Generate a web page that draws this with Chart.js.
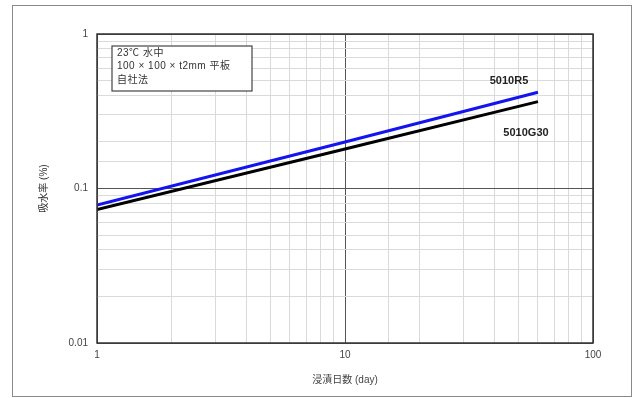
<!DOCTYPE html>
<html>
<head>
<meta charset="utf-8">
<script src="https://cdn.jsdelivr.net/npm/chart.js@4/dist/chart.umd.min.js"></script>
<style>
  html, body { margin: 0; padding: 0; background: #fff; }
  #wrap { width: 632px; height: 398px; }
</style>
</head>
<body>
<div id="wrap"><canvas id="absChart"></canvas></div>
<script>
// 浸漬日数 (day)
var days = [1, 10, 60];
// 吸水率 (%)
var r5Values = [0.078, 0.20, 0.42];
var g30Values = [0.073, 0.18, 0.365];

var seriesNames = ['5010R5', '5010G30'];
var xTickValues = [1, 10, 100];
var xTickLabels = ['1', '10', '100'];
var yTickValues = [0.01, 0.1, 1];
var yTickLabels = ['0.01', '0.1', '1'];
var noteLines = ['23\u2103 水中', '100 \u00d7 100 \u00d7 t2mm 平板', '自社法'];

var FONT = '"Liberation Sans", "Noto Sans CJK JP", sans-serif';

function isDecade(v) {
	var l = Math.log10(v);
	return Math.abs(l - Math.round(l)) < 1e-6;
}

function tickLabel(v, vals, labels) {
	for (var i = 0; i < vals.length; i++) {
		if (Math.abs(v - vals[i]) / vals[i] < 1e-6) return labels[i];
	}
	return '';
}

function toPoints(xs, ys) {
	var pts = [];
	for (var i = 0; i < xs.length; i++) pts.push({ x: xs[i], y: ys[i] });
	return pts;
}

// frame, plot border, note box and line names
var decorPlugin = {
	id: 'decor',
	beforeDraw: function(chart) {
		var ctx = chart.ctx;
		ctx.save();
		ctx.fillStyle = '#fff';
		ctx.fillRect(0, 0, chart.width, chart.height);
		ctx.strokeStyle = '#8a8a8a';
		ctx.lineWidth = 1;
		ctx.strokeRect(12.5, 5.5, 619, 391);
		ctx.restore();
	},
	afterDraw: function(chart) {
		var ctx = chart.ctx;
		var a = chart.chartArea;
		var xs = chart.scales.x, ys = chart.scales.y;
		ctx.save();

		ctx.strokeStyle = '#333';
		ctx.lineWidth = 1.5;
		ctx.strokeRect(a.left, a.top, a.right - a.left, a.bottom - a.top);

		// note box
		var bx = a.left + 15, by = a.top + 12;
		ctx.fillStyle = '#fff';
		ctx.fillRect(bx, by, 140, 45);
		ctx.strokeStyle = '#444';
		ctx.lineWidth = 1.2;
		ctx.strokeRect(bx, by, 140, 45);
		ctx.fillStyle = '#333';
		ctx.font = '10px ' + FONT;
		ctx.letterSpacing = '0.5px';
		ctx.textBaseline = 'middle';
		ctx.textAlign = 'left';
		for (var i = 0; i < noteLines.length; i++) {
			ctx.fillText(noteLines[i], bx + 5, by + 7 + i * 13.5);
		}
		ctx.letterSpacing = '0px';

		// series names near the line ends
		var n = days.length - 1;
		var ex = xs.getPixelForValue(days[n]);
		ctx.font = 'bold 11px ' + FONT;
		ctx.fillStyle = '#222';
		ctx.textAlign = 'center';
		ctx.fillText(seriesNames[0], ex - 29, ys.getPixelForValue(r5Values[n]) - 11);
		ctx.fillText(seriesNames[1], ex - 12, ys.getPixelForValue(g30Values[n]) + 31);
		ctx.restore();
	}
};

function gridColor(c) {
	return isDecade(c.tick.value) ? '#555' : '#dadada';
}

var ctx = document.getElementById('absChart').getContext('2d');
new Chart(ctx, {
	type: 'line',
	data: {
		datasets: [{
			label: seriesNames[0],
			data: toPoints(days, r5Values),
			borderColor: '#1414f0',
			borderWidth: 3,
			pointRadius: 0,
			fill: false
		}, {
			label: seriesNames[1],
			data: toPoints(days, g30Values),
			borderColor: '#000',
			borderWidth: 3,
			pointRadius: 0,
			fill: false
		}]
	},
	options: {
		responsive: true,
		maintainAspectRatio: false,
		animation: false,
		layout: { padding: { left: 0, top: 34, right: 39, bottom: 0 } },
		plugins: {
			legend: { display: false },
			tooltip: { enabled: false }
		},
		scales: {
			x: {
				type: 'logarithmic',
				min: 1,
				max: 100,
				afterFit: function(s) { s.height = 55; },
				grid: { color: gridColor, lineWidth: 1, drawTicks: false },
				border: { display: false },
				ticks: {
					autoSkip: false,
					maxRotation: 0,
					padding: 6,
					color: '#444',
					font: { family: FONT, size: 10 },
					callback: function(v) { return tickLabel(v, xTickValues, xTickLabels); }
				},
				title: {
					display: true,
					text: '浸漬日数 (day)',
					color: '#444',
					font: { family: FONT, size: 10 },
					padding: { top: 0, bottom: 12 }
				}
			},
			y: {
				type: 'logarithmic',
				min: 0.01,
				max: 1,
				afterFit: function(s) { s.width = 97; },
				grid: { color: gridColor, lineWidth: 1, drawTicks: false },
				border: { display: false },
				ticks: {
					autoSkip: false,
					padding: 9,
					color: '#444',
					font: { family: FONT, size: 10 },
					callback: function(v) { return tickLabel(v, yTickValues, yTickLabels); }
				},
				title: {
					display: true,
					text: '吸水率 (%)',
					color: '#333',
					font: { family: FONT, size: 10 },
					padding: { top: 38, bottom: 0 }
				}
			}
		}
	},
	plugins: [decorPlugin]
});
</script>
</body>
</html>
